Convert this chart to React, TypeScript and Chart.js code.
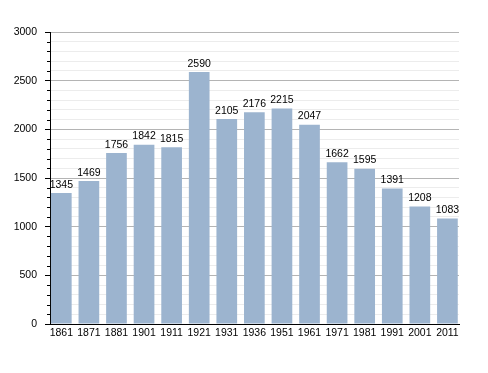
import React, { useEffect, useRef } from "react";
import { Chart, registerables } from "chart.js";

Chart.register(...registerables);

const years = ["1861", "1871", "1881", "1901", "1911", "1921", "1931", "1936", "1951", "1961", "1971", "1981", "1991", "2001", "2011"];
const population = [1345, 1469, 1756, 1842, 1815, 2590, 2105, 2176, 2215, 2047, 1662, 1595, 1391, 1208, 1083];
const yMax = 3000;
const yMinorStep = 100;
const yMajorStep = 500;

const FONT = "'Liberation Sans', Arial, Helvetica, sans-serif";
const FS = 10.5;

const extras = {
  id: "extras",
  afterDatasetsDraw(chart: any) {
    const ctx = chart.ctx;
    const meta = chart.getDatasetMeta(0);
    ctx.save();
    ctx.font = `${FS}px ${FONT}`;
    ctx.fillStyle = "#000";
    ctx.textAlign = "center";
    ctx.textBaseline = "bottom";
    meta.data.forEach((bar: any, i: number) => {
      ctx.fillText(String(population[i]), bar.x, bar.y - 3);
    });
    const y = chart.scales.y;
    const left = chart.chartArea.left;
    ctx.strokeStyle = "#000";
    ctx.lineWidth = 1;
    for (let v = 0; v <= yMax; v += yMinorStep) {
      if (v % yMajorStep === 0) continue;
      const py = Math.round(y.getPixelForValue(v)) + 0.5;
      ctx.beginPath();
      ctx.moveTo(left - 3, py);
      ctx.lineTo(left, py);
      ctx.stroke();
    }
    ctx.restore();
  },
};

export default function App() {
  const ref = useRef<HTMLCanvasElement>(null);
  useEffect(() => {
    if (!ref.current) return;
    const chart = new Chart(ref.current, {
      type: "bar",
      data: {
        datasets: [
          {
            data: population.map((v, i) => ({ x: i, y: v })),
            backgroundColor: "#9cb4cf",
            borderWidth: 0,
            barPercentage: 0.75,
            categoryPercentage: 1,
          },
        ],
      },
      options: {
        responsive: false,
        animation: false,
        layout: { padding: { left: 13, right: 29, top: 32, bottom: 29 } },
        plugins: { legend: { display: false }, tooltip: { enabled: false } },
        scales: {
          x: {
            type: "linear",
            min: -0.41,
            max: 14.42,
            offset: false,
            grid: { display: false, drawTicks: false, offset: false },
            border: { display: true, color: "#000", width: 1 },
            ticks: {
              stepSize: 1,
              includeBounds: false,
              autoSkip: false,
              maxRotation: 0,
              color: "#000",
              font: { family: FONT, size: FS },
              padding: 3,
              callback: (v: any) => {
                const n = Number(v);
                return Number.isInteger(n) && years[n] ? years[n] : "";
              },
            },
            afterFit: (s: any) => { s.height = 20; },
          },
          y: {
            min: 0,
            max: yMax,
            border: { display: true, color: "#000", width: 1 },
            grid: {
              color: (c: any) => (c.tick && c.tick.value % yMajorStep === 0 ? "#b4b4b4" : "#ececec"),
              tickColor: (c: any) => (c.tick && c.tick.value % yMajorStep === 0 ? "#000" : "rgba(0,0,0,0)"),
              tickLength: 5,
              lineWidth: 1,
            },
            ticks: {
              stepSize: yMinorStep,
              autoSkip: false,
              padding: 8,
              color: "#000",
              font: { family: FONT, size: FS },
              callback: (v: any) => (Number(v) % yMajorStep === 0 ? String(v) : ""),
            },
            afterFit: (s: any) => { s.width = 37; },
          },
        },
      },
      plugins: [extras],
    });
    return () => chart.destroy();
  }, []);
  return (
    <div style={{ position: "fixed", left: 0, top: 0, width: 488, height: 373, background: "#fff" }}>
      <canvas ref={ref} width={488} height={373} />
    </div>
  );
}
